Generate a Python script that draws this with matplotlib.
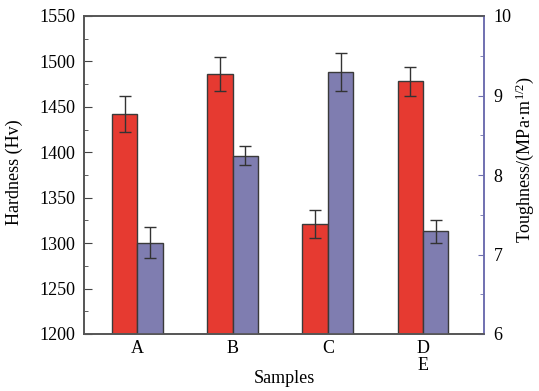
import numpy as np
import matplotlib.pyplot as plt
from matplotlib.ticker import MultipleLocator

plt.rcParams['font.family'] = ['Liberation Serif', 'DejaVu Serif']
plt.rcParams['mathtext.fontset'] = 'custom'
plt.rcParams['mathtext.rm'] = 'Liberation Serif'
plt.rcParams['mathtext.it'] = 'Liberation Serif:italic'

samples = ['A', 'B', 'C', 'D\nE']
hardness = [1442, 1486, 1321, 1478]
hardness_err = [20, 19, 15, 16]
toughness = [7.15, 8.24, 9.30, 7.29]
toughness_err = [0.20, 0.12, 0.24, 0.15]

red = '#e63a31'
blue = '#7f7db0'
edge = '#3a3a3a'
spine_blue = '#6f70b0'

x = np.arange(1, len(samples) + 1)
w = 0.267

fig = plt.figure(figsize=(5.39, 3.91), dpi=100)
ax = fig.add_axes([84 / 539, 1 - 334 / 391, 400 / 539, 318 / 391])
ax2 = ax.twinx()

ax.bar(x - w / 2, hardness, w, color=red, edgecolor=edge, linewidth=1.0,
       yerr=hardness_err, error_kw=dict(ecolor='#333333', elinewidth=1.0, capsize=4, capthick=1.0))
ax2.bar(x + w / 2, toughness, w, color=blue, edgecolor=edge, linewidth=1.0,
        yerr=toughness_err, error_kw=dict(ecolor='#333333', elinewidth=1.0, capsize=4, capthick=1.0))

ax.set_xlim(0.44, 4.64)
ax.set_ylim(1200, 1550)
ax2.set_ylim(6, 10)

ax.set_xticks(x)
ax.set_xticklabels(samples, fontsize=13, linespacing=1.05)
ax.tick_params(axis='x', length=0, pad=4)
ax.yaxis.set_major_locator(MultipleLocator(50))
ax.yaxis.set_minor_locator(MultipleLocator(25))
ax.tick_params(axis='y', which='major', direction='in', length=6, labelsize=13, color='#444444', pad=6)
ax.tick_params(axis='y', which='minor', direction='in', length=3, color='#444444')

ax2.yaxis.set_major_locator(MultipleLocator(1))
ax2.yaxis.set_minor_locator(MultipleLocator(0.5))
ax2.tick_params(axis='y', which='major', direction='in', length=4, labelsize=13, color=spine_blue, pad=7)
ax2.tick_params(axis='y', which='minor', direction='in', length=3, color=spine_blue)

for a in (ax, ax2):
    for s in ('left', 'top', 'bottom'):
        a.spines[s].set_color('#555555')
        a.spines[s].set_linewidth(1.2)
    a.spines['right'].set_color(spine_blue)
    a.spines['right'].set_linewidth(1.2)

ax.set_ylabel('Hardness (Hv)', fontsize=13)
ax.yaxis.set_label_coords(-0.1525, 0.51)
ax.set_xlabel('Samples', fontsize=13)
ax.xaxis.set_label_coords(0.5, -0.113)
ax2.set_ylabel('Toughness/(MPa·m$^{1/2}$)', fontsize=13)
ax2.yaxis.set_label_coords(1.0725, 0.55)

fig.savefig('out.png', dpi=100)
